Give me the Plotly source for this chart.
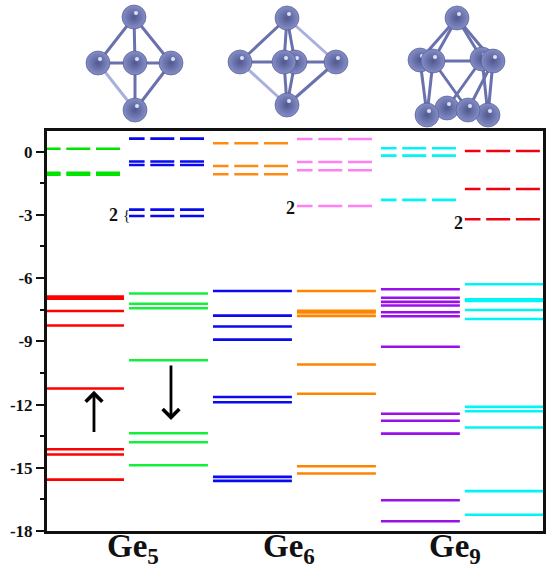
import numpy as np
import plotly.graph_objects as go

# Energy levels per column (eV)
g5_unocc = [0.14, -1.0, -1.09]
g5_occ = [-6.88, -6.98, -7.56, -8.25, -11.24, -14.12, -14.37, -15.56]
g5b_unocc = [0.62, -0.47, -0.63, -2.75, -3.05]
g5b_occ = [-6.73, -7.22, -7.43, -9.9, -13.36, -13.79, -14.88]
g6_unocc = [0.4, -0.68, -1.07]
g6_occ = [-6.61, -7.78, -8.3, -8.92, -11.64, -11.89, -15.43, -15.62]
g6b_unocc = [0.6, -0.49, -0.88, -2.58]
g6b_occ = [-6.61, -7.55, -7.63, -7.79, -10.1, -11.49, -14.93, -15.27]
g9_unocc = [0.16, -0.19, -2.29]
g9_occ = [-6.53, -6.93, -7.13, -7.3, -7.62, -7.81, -9.26, -12.44, -12.77, -13.38, -16.54, -17.54]
g9b_unocc = [0.03, -1.77, -3.21]
g9b_occ = [-6.29, -7.0, -7.08, -7.51, -7.94, -12.11, -12.32, -13.09, -16.11, -17.23]

columns = [
    (0, g5_unocc, "#00e400", g5_occ, "#ff0000"),
    (1, g5b_unocc, "#0a0aee", g5b_occ, "#12f03c"),
    (2, g6_unocc, "#ff8a10", g6_occ, "#0a0aee"),
    (3, g6b_unocc, "#ff80f0", g6b_occ, "#ff8400"),
    (4, g9_unocc, "#00f5f5", g9_occ, "#9a10e8"),
    (5, g9b_unocc, "#f00010", g9b_occ, "#00f5f5"),
]

y_ticks = [0, -3, -6, -9, -12, -15, -18]
y_labels = ["0", "-3", "-6", "-9", "-12", "-15", "-18"]
x_ticks = [1.05, 2.9, 4.88]
x_labels = ["Ge<sub>5</sub>", "Ge<sub>6</sub>", "Ge<sub>9</sub>"]

# Ball-and-stick clusters (picture coordinates of the inset)
ge5_x = [134, 98, 135, 171, 135]
ge5_y = [17, 63, 63, 63, 110]
ge5_bonds = [(0, 1), (0, 2), (0, 3), (1, 2), (2, 3), (2, 4), (3, 4)]
ge5_pale = [(1, 4)]

ge6_x = [295, 287, 240, 284, 336, 287]
ge6_y = [62, 18, 62, 62, 62, 105]
ge6_bonds = [(1, 2), (1, 3), (2, 3), (3, 4), (3, 5), (4, 5), (0, 1), (0, 5)]
ge6_pale = [(1, 4), (2, 5)]

ge9_x = [482, 420, 457, 447, 493, 433, 488, 427, 468]
ge9_y = [59, 60, 18, 108, 61, 61, 115, 115, 110]
ge9_bonds = [(2, 5), (2, 1), (2, 4), (2, 0), (5, 4), (5, 7), (1, 7), (5, 8), (4, 8), (4, 6),
             (0, 3), (0, 6), (7, 8), (3, 8), (8, 6)]
ge9_pale = []

clusters = [
    (ge5_x, ge5_y, ge5_bonds, ge5_pale),
    (ge6_x, ge6_y, ge6_bonds, ge6_pale),
    (ge9_x, ge9_y, ge9_bonds, ge9_pale),
]

fig = go.Figure()


def level_trace(col, values, color, width, span, dash=None):
    xs, ys = [], []
    for v in values:
        # drawn right to left so that the short dash falls on the left end
        xs += [col + span, col, None]
        ys += [v, v, None]
    line = dict(color=color, width=width)
    if dash:
        line["dash"] = dash
    return go.Scatter(x=xs, y=ys, mode="lines", line=line, hoverinfo="skip",
                      showlegend=False, connectgaps=False)


for col, unocc, c1, occ, c2 in columns:
    fig.add_trace(level_trace(col, unocc, c1, 2.6, 0.893, "24px,5.7px"))
    fig.add_trace(level_trace(col, occ, c2, 2.6, 0.94))

# clusters on their own full-window axes
for cx, cy, bonds, pale in clusters:
    for group, color in ((pale, "#aab0de"), (bonds, "#6a72ae")):
        bx, by = [], []
        for a, b in group:
            bx += [cx[a], cx[b], None]
            by += [cy[a], cy[b], None]
        fig.add_trace(go.Scatter(x=bx, y=by, xaxis="x2", yaxis="y2", mode="lines",
                                 line=dict(color=color, width=3), hoverinfo="skip",
                                 showlegend=False))
    for i in range(len(cx)):
        fig.add_trace(go.Scatter(
            x=[cx[i]], y=[cy[i]], xaxis="x2", yaxis="y2", mode="markers",
            marker=dict(size=24, color="#868ec8",
                        gradient=dict(type="radial", color="#50588f"),
                        line=dict(width=0.6, color="#4a5288")),
            hoverinfo="skip", showlegend=False))
        fig.add_trace(go.Scatter(
            x=[cx[i] + 2], y=[cy[i] - 4], xaxis="x2", yaxis="y2", mode="markers",
            marker=dict(size=4, color="#dfe2f6", line=dict(width=0)),
            hoverinfo="skip", showlegend=False))

serif = "Liberation Serif"
notes = [(0.81, -3.0, "2", 18, True), (0.965, -3.0, "{", 15, False),
         (2.92, -2.66, "2", 18, True), (4.92, -3.37, "2", 18, True)]
annotations = [
    dict(x=x, y=y, xref="x", yref="y", text=f"<b>{t}</b>" if bold else t, showarrow=False,
         font=dict(family=serif, size=s, color="#111111"))
    for x, y, t, s, bold in notes
]
arrows = [(0.583, -13.37, -11.35), (1.5, -10.07, -12.73)]
for x, y0, y1 in arrows:
    annotations.append(dict(x=x, y=y1, ax=x, ay=y0, xref="x", yref="y", axref="x", ayref="y",
                            text="", showarrow=True, arrowhead=4, arrowsize=1.15,
                            arrowwidth=2.8, arrowcolor="#000000"))
for x, label in zip(x_ticks, x_labels):
    annotations.append(dict(x=x, y=-18, xref="x", yref="y", yanchor="top", yshift=5,
                            text=f"<b>{label}</b>", showarrow=False,
                            font=dict(family=serif, size=33, color="#111111")))

fig.update_layout(
    width=550, height=575, margin=dict(l=0, r=0, t=0, b=0, pad=0),
    paper_bgcolor="white", plot_bgcolor="rgba(0,0,0,0)", showlegend=False,
    annotations=annotations,
    xaxis=dict(domain=[46.7 / 550, 543 / 550], range=[0.02, 5.93], showticklabels=False, ticks="",
               showgrid=False, zeroline=False, automargin=False,
               showline=True, linecolor="#111111", linewidth=2.5, mirror=True),
    yaxis=dict(domain=[(575 - 531) / 575, (575 - 131) / 575], range=[-18, 0.98], tickmode="array",
               tickvals=y_ticks, ticktext=[f"<b>{t}</b>" for t in y_labels], ticks="outside",
               ticklen=8, tickwidth=2, tickcolor="#111111", showgrid=False, zeroline=False,
               automargin=False,
               showline=True, linecolor="#111111", linewidth=2.5, mirror=True,
               tickfont=dict(family=serif, size=17, color="#111111"),
               minor=dict(tickmode="array", tickvals=[-1.5, -4.5, -7.5, -10.5, -13.5, -16.5],
                          ticks="outside", ticklen=4, tickwidth=2, tickcolor="#111111",
                          showgrid=False)),
    xaxis2=dict(domain=[0, 1], range=[0, 550], visible=False, anchor="y2", fixedrange=True),
    yaxis2=dict(domain=[0, 1], range=[575, 0], visible=False, anchor="x2", fixedrange=True),
)

fig.write_html("out.html", config={"displayModeBar": False},
               post_script="document.body.style.margin='0';document.documentElement.style.overflow='hidden';")
